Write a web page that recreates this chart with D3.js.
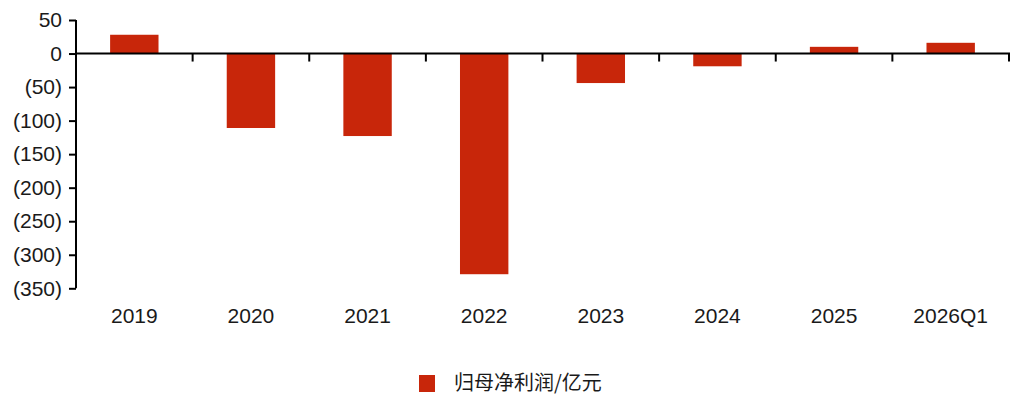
<!DOCTYPE html>
<html>
<head>
<meta charset="utf-8">
<script src="https://cdn.jsdelivr.net/npm/d3@7/dist/d3.min.js"></script>
<style>
  html, body { margin: 0; padding: 0; background: #fff; }
  svg text { font-family: "Liberation Sans", Arial, sans-serif; fill: #1a1a1a; }
</style>
</head>
<body>
<svg id="chart" width="1013" height="399"></svg>
<script>
// Net profit attributable to parent (100 million CNY)
const categories = ["2019", "2020", "2021", "2022", "2023", "2024", "2025", "2026Q1"];
const netProfit = [28, -111, -123, -329, -44, -19, 10, 16];
const yTicks = [50, 0, -50, -100, -150, -200, -250, -300, -350];
const seriesName = "归母净利润/亿元";

const barColor = "#c8260a";
const svg = d3.select("#chart");

const plot = { left: 76, right: 1009, top: 20, bottom: 288 };

const x = d3.scaleBand()
  .domain(categories)
  .range([plot.left, plot.right])
  .paddingInner(0.585)
  .paddingOuter(0.2925);

const y = d3.scaleLinear()
  .domain([-350, 50])
  .range([plot.bottom + 0.3, plot.top]);

const fmt = v => v < 0 ? `(${Math.abs(v)})` : `${v}`;

// bars
svg.append("g")
  .selectAll("rect")
  .data(categories.map((c, i) => ({ c, v: netProfit[i] })))
  .join("rect")
  .attr("x", d => x(d.c))
  .attr("width", x.bandwidth())
  .attr("y", d => y(Math.max(0, d.v)))
  .attr("height", d => Math.abs(y(d.v) - y(0)))
  .attr("fill", barColor);

// y axis
const yAxis = svg.append("g")
  .attr("transform", `translate(${plot.left},0)`)
  .call(d3.axisLeft(y).tickValues(yTicks).tickFormat(fmt).tickSize(7).tickPadding(7));
yAxis.select(".domain").attr("stroke", "#000").attr("stroke-width", 2)
  .attr("d", `M0,${y(50)}V${y(-350)}`);
yAxis.selectAll(".tick line").attr("stroke", "#000").attr("stroke-width", 2);
yAxis.selectAll(".tick text").attr("font-size", 21).attr("fill", "#1a1a1a");

// zero baseline with category-boundary ticks
const xAxis = svg.append("g")
  .attr("transform", `translate(0,${y(0)})`);
xAxis.append("line")
  .attr("x1", plot.left).attr("x2", plot.right + 1)
  .attr("stroke", "#000").attr("stroke-width", 2);
const step = x.step();
const boundaries = d3.range(1, categories.length + 1).map(i => plot.left + i * step);
xAxis.selectAll("line.sep")
  .data(boundaries)
  .join("line")
  .attr("class", "sep")
  .attr("x1", d => d).attr("x2", d => d)
  .attr("y1", 0).attr("y2", 8)
  .attr("stroke", "#000").attr("stroke-width", 2);

// category labels
svg.append("g")
  .selectAll("text")
  .data(categories)
  .join("text")
  .attr("x", d => x(d) + x.bandwidth() / 2)
  .attr("y", 323)
  .attr("text-anchor", "middle")
  .attr("font-size", 21)
  .text(d => d);

// legend
const legend = svg.append("g");
legend.append("rect")
  .attr("x", 419).attr("y", 375)
  .attr("width", 16).attr("height", 17)
  .attr("fill", barColor);
legend.append("text")
  .attr("x", 454).attr("y", 390)
  .attr("font-size", 20)
  .style("font-family", "'Noto Sans CJK SC', 'Noto Sans', sans-serif")
  .text(seriesName);
</script>
</body>
</html>
